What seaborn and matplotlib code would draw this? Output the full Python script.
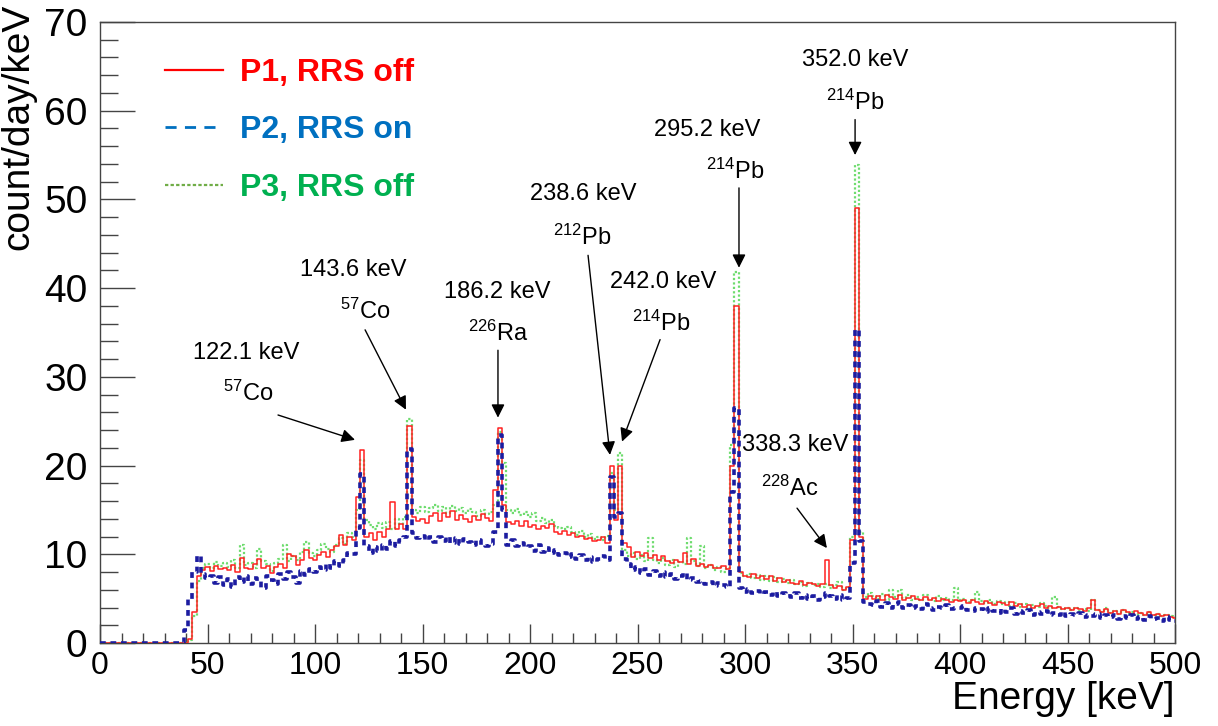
import numpy as np
import pandas as pd
import matplotlib
matplotlib.use("Agg")
import matplotlib.pyplot as plt
from matplotlib.lines import Line2D
from matplotlib.ticker import MultipleLocator
import seaborn as sns

# bin centres [keV]: one empty bin below threshold (0-39), then 2 keV bins 39..501
energy = [19.5] + list(range(40, 501, 2))
bin_edges = [0] + list(range(39, 502, 2))

# count/day/keV, first value = empty 0-39 keV bin, then rows of 20 keV
p1_rrs_off = [0.0,
    0.0, 0.4, 3.5, 7.5, 8.2, 8.6, 8.1, 8.7, 8.3, 8.5,        # 40
    8.2, 8.8, 8.0, 9.6, 8.4, 8.3, 8.9, 9.5, 8.5, 8.7,        # 60
    7.9, 8.6, 8.9, 8.4, 10.0, 9.8, 8.8, 9.3, 10.5, 9.6,      # 80
    9.4, 9.9, 10.3, 9.7, 10.5, 10.9, 12.2, 11.0, 12.0, 11.6, # 100
    16.5, 21.8, 12.0, 12.4, 11.6, 12.5, 12.0, 12.8, 15.9, 12.9,  # 120
    13.4, 12.8, 24.5, 14.2, 13.8, 14.0, 13.5, 14.3, 14.6, 13.8,  # 140
    14.7, 14.2, 14.9, 13.9, 14.4, 14.0, 13.6, 14.3, 13.9, 14.5,  # 160
    14.1, 13.8, 17.2, 24.2, 15.5, 13.6, 13.4, 13.8, 13.2, 13.7,  # 180
    13.1, 13.3, 12.9, 13.2, 13.0, 13.4, 12.5, 12.3, 12.6, 12.2,  # 200
    12.4, 11.9, 12.1, 11.7, 11.8, 11.5, 11.6, 11.9, 11.3, 19.9,  # 220
    13.9, 20.0, 11.3, 10.8, 9.7, 10.3, 9.8, 10.1, 9.6, 9.9,      # 240
    9.4, 9.8, 9.2, 9.0, 9.3, 9.1, 10.2, 8.9, 9.5, 8.7,           # 260
    8.9, 8.6, 8.8, 8.4, 8.5, 8.7, 8.3, 20.0, 38.0, 8.0,          # 280
    7.6, 7.4, 7.8, 7.3, 7.5, 7.2, 7.6, 7.0, 7.3, 6.9,            # 300
    7.1, 6.8, 6.6, 7.0, 6.5, 6.8, 6.6, 6.4, 6.7, 9.4,            # 320
    6.5, 6.2, 6.4, 6.0, 6.3, 11.6, 49.0, 12.0, 5.0, 5.3,         # 340
    5.0, 5.3, 4.9, 5.4, 5.2, 5.0, 5.4, 4.9, 5.1, 5.3,            # 360
    5.0, 4.8, 5.2, 4.9, 5.1, 4.7, 5.0, 4.8, 4.6, 4.9,            # 380
    4.7, 4.9, 4.5, 4.8, 4.6, 4.4, 4.7, 4.5, 4.3, 4.6,            # 400
    4.5, 4.3, 4.6, 4.2, 4.4, 4.1, 4.3, 4.0, 4.2, 4.4,            # 420
    4.0, 4.2, 3.9, 4.1, 3.8, 4.0, 3.7, 3.9, 3.8, 3.6,            # 440
    3.9, 4.8, 3.7, 3.5, 3.8, 3.4, 3.6, 3.3, 3.7, 3.5,            # 460
    3.3, 3.6, 3.4, 3.2, 3.5, 3.1, 3.3, 3.0, 3.2, 2.9,            # 480
    2.8]

p2_rrs_on = [0.0,
    1.5, 5.0, 8.0, 9.8, 7.8, 7.3, 7.6, 6.8, 7.4, 6.5,            # 40
    7.2, 6.3, 7.4, 6.9, 7.5, 6.6, 7.3, 7.0, 6.2, 7.6,            # 60
    7.1, 6.6, 7.8, 7.2, 8.0, 7.4, 6.8, 8.1, 7.7, 8.3,            # 80
    8.0, 8.6, 8.2, 8.9, 8.5, 9.2, 8.7, 9.4, 10.1, 10.0,          # 100
    13.0, 19.1, 10.9, 10.2, 10.8, 10.4, 11.0, 10.6, 11.5, 10.9,  # 120
    11.6, 11.9, 21.9, 12.4, 11.8, 12.1, 11.6, 12.0, 11.4, 11.9,  # 140
    11.5, 12.0, 11.3, 11.8, 11.2, 11.7, 11.4, 11.0, 11.6, 11.1,  # 160
    10.9, 11.2, 12.5, 23.5, 15.0, 11.0, 11.6, 10.9, 11.3, 10.8,  # 180
    10.9, 10.4, 11.0, 10.3, 10.7, 10.1, 10.5, 9.9, 10.2, 9.7,    # 200
    10.0, 9.5, 9.9, 9.3, 9.7, 9.1, 9.5, 9.8, 9.4, 18.7,          # 220
    14.2, 14.6, 9.5, 8.9, 8.2, 8.6, 7.9, 8.3, 7.7, 8.1,          # 240
    7.6, 8.0, 7.4, 7.8, 7.2, 7.5, 7.9, 7.1, 7.3, 6.9,            # 260
    7.0, 6.6, 6.9, 6.4, 6.8, 6.5, 6.3, 17.0, 26.5, 6.2,          # 280
    5.8, 6.1, 5.6, 5.9, 5.5, 5.8, 5.4, 5.7, 5.3, 5.6,            # 300
    5.5, 5.2, 5.6, 5.1, 5.4, 5.0, 5.3, 4.9, 5.2, 5.6,            # 320
    5.3, 5.0, 5.4, 4.8, 5.1, 9.0, 35.3, 11.5, 4.6, 4.4,          # 340
    4.3, 4.7, 4.1, 4.5, 4.0, 4.4, 4.6, 4.0, 4.3, 3.9,            # 360
    4.2, 3.8, 4.4, 4.0, 3.7, 4.1, 3.9, 4.3, 3.8, 4.0,            # 380
    3.9, 4.2, 3.7, 3.6, 4.0, 3.8, 3.5, 3.9, 3.6, 3.4,            # 400
    3.8, 3.5, 3.9, 3.3, 3.6, 3.4, 3.7, 3.2, 3.5, 3.3,            # 420
    3.6, 3.1, 3.4, 3.2, 3.5, 3.0, 3.3, 3.1, 3.4, 2.9,            # 440
    3.2, 3.0, 3.3, 2.8, 3.1, 2.9, 3.2, 2.7, 3.0, 2.8,            # 460
    3.1, 2.7, 2.9, 2.6, 3.0, 2.7, 2.8, 2.5, 2.9, 2.6,            # 480
    2.5]

p3_rrs_off = [0.0,
    0.0, 0.3, 3.0, 7.0, 8.4, 8.9, 8.5, 9.1, 8.7, 9.0,            # 40
    8.6, 9.3, 8.5, 11.0, 8.8, 9.0, 8.4, 10.6, 9.2, 8.9,          # 60
    8.1, 9.0, 9.5, 11.0, 9.2, 9.8, 9.4, 10.3, 11.4, 10.2,        # 80
    9.8, 10.5, 11.2, 10.6, 10.3, 11.0, 11.8, 11.2, 12.4, 11.9,   # 100
    15.0, 20.6, 13.9, 13.3, 12.8, 13.5, 13.0, 13.6, 12.9, 14.0,  # 120
    13.4, 14.2, 25.2, 15.0, 14.6, 15.3, 14.8, 15.2, 15.5, 14.9,  # 140
    15.3, 14.7, 15.4, 14.9, 15.2, 14.6, 15.1, 14.8, 14.3, 15.0,  # 160
    14.5, 14.8, 15.5, 23.8, 20.3, 15.0, 14.6, 15.1, 14.4, 14.8,  # 180
    14.2, 14.6, 13.8, 14.1, 13.5, 13.9, 13.2, 13.0, 12.8, 13.1,  # 200
    12.5, 12.2, 12.6, 11.9, 12.3, 11.7, 12.0, 11.6, 12.1, 19.2,  # 220
    15.0, 21.4, 10.5, 9.8, 10.2, 9.5, 9.9, 9.2, 11.8, 9.4,       # 240
    9.0, 9.6, 8.8, 9.3, 8.6, 9.1, 8.9, 11.8, 9.2, 8.7,           # 260
    10.9, 8.5, 8.8, 8.2, 8.6, 8.0, 8.4, 22.3, 41.8, 7.9,         # 280
    7.6, 7.8, 7.3, 7.7, 7.1, 7.5, 7.0, 7.4, 6.9, 7.2,            # 300
    6.8, 7.1, 6.6, 6.9, 6.4, 6.8, 6.5, 6.7, 6.3, 6.6,            # 320
    6.2, 6.5, 6.9, 6.0, 6.3, 12.0, 53.9, 12.5, 5.2, 5.6,         # 340
    5.3, 5.0, 5.5, 4.9, 6.0, 5.2, 6.0, 5.1, 5.4, 4.8,            # 360
    5.2, 4.9, 5.4, 5.0, 4.7, 5.3, 4.8, 5.1, 4.9, 6.2,            # 380
    4.8, 5.0, 4.6, 4.9, 5.8, 4.7, 4.5, 4.8, 4.4, 4.7,            # 400
    4.4, 4.6, 4.2, 4.5, 4.1, 4.4, 4.0, 4.3, 4.1, 4.5,            # 420
    4.2, 4.0, 5.2, 4.1, 3.8, 4.0, 3.7, 3.9, 3.6, 3.8,            # 440
    3.6, 4.8, 3.7, 3.5, 3.9, 3.4, 3.6, 3.3, 3.7, 3.4,            # 460
    3.5, 3.2, 3.4, 3.1, 3.5, 3.2, 3.3, 3.0, 3.2, 3.0,            # 480
    2.9]

series_names = ["P1, RRS off", "P2, RRS on", "P3, RRS off"]

# peak labels: energy text, isotope text
peak_labels = ["122.1 keV", "143.6 keV", "186.2 keV", "238.6 keV", "242.0 keV",
               "295.2 keV", "338.3 keV", "352.0 keV"]
isotopes = ["$^{57}$Co", "$^{57}$Co", "$^{226}$Ra", "$^{212}$Pb", "$^{214}$Pb",
            "$^{214}$Pb", "$^{228}$Ac", "$^{214}$Pb"]

# label placement (data coords): energy text, isotope text, arrow tail, arrow head
label_pos = [(67.9, 32.7), (117.7, 42.0), (184.7, 39.6), (224.7, 50.6),
             (261.9, 40.7), (282.3, 57.8), (323.2, 22.3), (351.2, 65.7)]
iso_pos = [(68.8, 28.1), (123.3, 37.4), (185.1, 34.9), (224.2, 45.7),
           (260.9, 36.0), (295.3, 53.2), (320.9, 17.4), (351.2, 60.9)]
arrow_from = [(82.8, 25.7), (123.3, 35.3), (185.1, 33.0), (227.0, 43.7),
              (260.5, 34.2), (297.2, 51.3), (324.2, 15.2), (351.2, 59.0)]
arrow_to = [(118.6, 22.9), (142.3, 26.3), (185.1, 25.4), (237.2, 21.2),
            (242.8, 22.7), (297.2, 42.3), (338.1, 10.7), (351.2, 55.0)]

assert len(p1_rrs_off) == len(p2_rrs_on) == len(p3_rrs_off) == len(energy)

df = pd.DataFrame({
    "energy": energy * 3,
    "rate": p1_rrs_off + p2_rrs_on + p3_rrs_off,
    "series": [series_names[0]] * len(energy) + [series_names[1]] * len(energy)
              + [series_names[2]] * len(energy),
})

plt.rcParams["font.family"] = ["Liberation Sans", "DejaVu Sans"]
plt.rcParams["mathtext.default"] = "regular"

fig = plt.figure(figsize=(12.18, 7.26), dpi=100)
ax = fig.add_axes([100 / 1218, 83 / 726, 1075 / 1218, 621 / 726])

styles = {
    series_names[2]: dict(color="#6edc6e", lw=1.6, ls=(0, (1, 1)), zorder=2),
    series_names[0]: dict(color="#ff2020", lw=1.1, ls="-", zorder=3),
    series_names[1]: dict(color="#1c1ca0", lw=2.6, ls=(0, (1.6, 1.3)), zorder=4),
}
for name, st in styles.items():
    sns.histplot(data=df[df.series == name], x="energy", weights="rate",
                 bins=bin_edges, element="step", fill=False, ax=ax,
                 color=st["color"], linewidth=st["lw"], linestyle=st["ls"],
                 zorder=st["zorder"])

ax.set_xlim(0, 500)
ax.set_ylim(0, 70)

ax.xaxis.set_major_locator(MultipleLocator(50))
ax.xaxis.set_minor_locator(MultipleLocator(10))
ax.yaxis.set_major_locator(MultipleLocator(10))
ax.yaxis.set_minor_locator(MultipleLocator(2))
ax.tick_params(axis="x", which="major", direction="in", length=14, width=1,
               color="#444444", pad=6, labelsize=23)
ax.tick_params(axis="x", which="minor", direction="in", length=7, width=1, color="#444444")
ax.tick_params(axis="y", which="major", direction="in", length=25, width=1,
               color="#444444", pad=9, labelsize=28)
ax.tick_params(axis="y", which="minor", direction="in", length=13, width=1, color="#444444")
for sp in ax.spines.values():
    sp.set_color("#444444")
    sp.set_linewidth(1.0)

ax.set_xlabel("Energy [keV]", fontsize=28, ha="right", va="center")
ax.xaxis.set_label_coords(1.0, -0.09)
ax.set_ylabel("count/day/keV", fontsize=28, ha="right", va="center")
ax.yaxis.set_label_coords(-0.076, 1.03)

for lab, iso, p_lab, p_iso, a0, a1 in zip(peak_labels, isotopes, label_pos,
                                           iso_pos, arrow_from, arrow_to):
    ax.text(p_lab[0], p_lab[1], lab, fontsize=17, ha="center", va="center")
    ax.text(p_iso[0], p_iso[1], iso, fontsize=17, ha="center", va="center")
    ax.annotate("", xy=a1, xytext=a0,
                arrowprops=dict(arrowstyle="-|>", color="black", lw=1.0,
                                mutation_scale=20, shrinkA=0, shrinkB=0))

handles = [
    Line2D([], [], color="#ff0000", lw=1.6, ls="-"),
    Line2D([], [], color="#0070c0", lw=2.0, ls=(0, (4, 3))),
    Line2D([], [], color="#70ad47", lw=1.6, ls=(0, (1.5, 1))),
]
leg = ax.legend(handles, series_names, loc="upper left",
                bbox_to_anchor=(165 / 1218, (726 - 58) / 726),
                bbox_transform=fig.transFigure, frameon=False,
                prop=dict(family="Liberation Sans", weight="bold", size=23),
                handlelength=1.8, handletextpad=0.55, labelspacing=0.86,
                borderpad=0, borderaxespad=0)
for txt, col in zip(leg.get_texts(), ["#ff0000", "#0070c0", "#00b050"]):
    txt.set_color(col)

fig.savefig("out.png", dpi=100)
